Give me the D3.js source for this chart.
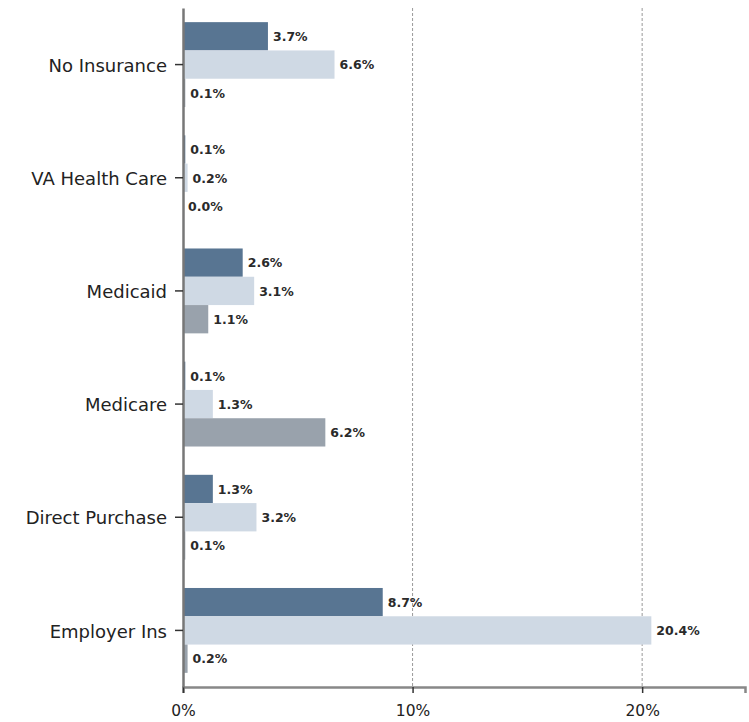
<!DOCTYPE html>
<html><head><meta charset="utf-8">
<script src="https://cdn.jsdelivr.net/npm/d3@7"></script>
<style>body{margin:0;background:#fff}svg{display:block}</style>
</head><body>
<svg id="chart" width="749" height="722"></svg>
<script>
const categories = ["No Insurance","VA Health Care","Medicaid","Medicare","Direct Purchase","Employer Ins"];
const seriesNames = ["s1","s2","s3"];
const series1 = [3.7, 0.1, 2.6, 0.1, 1.3, 8.7];
const series2 = [6.6, 0.2, 3.1, 1.3, 3.2, 20.4];
const series3 = [0.1, 0.0, 1.1, 6.2, 0.1, 0.2];
const tickValues = [0, 10, 20];
const colors = ["#587592", "#cfd9e4", "#99a2ac"];

const FONT = "'DejaVu Sans', Verdana, sans-serif";
const svg = d3.select("#chart");
const m = {top: 8, left: 183, right: 4, bottom: 35};
const W = 749, H = 722;
const x = d3.scaleLinear().domain([0, d3.max(series2) * 1.2]).range([m.left, W - m.right]);
const y = d3.scaleBand().domain(categories).range([m.top, H - m.bottom]).paddingInner(0.25).paddingOuter(0.125);
const ySub = d3.scaleBand().domain(seriesNames).range([0, y.bandwidth()]);
const allSeries = [series1, series2, series3];

// gridlines
svg.append("g").selectAll("line").data(tickValues.filter(d => d > 0)).join("line")
  .attr("x1", d => x(d)).attr("x2", d => x(d))
  .attr("y1", m.top).attr("y2", H - m.bottom)
  .attr("stroke", "#999").attr("stroke-width", 1).attr("stroke-dasharray", "3,2");

// bars
const groups = svg.append("g").selectAll("g").data(categories).join("g")
  .attr("transform", d => `translate(0,${y(d)})`);
groups.each(function(cat, i) {
  const g = d3.select(this);
  allSeries.forEach((s, j) => {
    const v = s[i];
    g.append("rect")
      .attr("x", x(0)).attr("y", ySub(seriesNames[j]))
      .attr("width", x(v) - x(0)).attr("height", ySub.bandwidth())
      .attr("fill", colors[j]);
    g.append("text")
      .attr("x", x(v) + 5).attr("y", ySub(seriesNames[j]) + ySub.bandwidth() / 2)
      .attr("dy", "0.38em")
      .attr("font-family", FONT)
      .attr("font-size", 12.5).attr("font-weight", 700).attr("fill", "#2a2a2a")
      .text(v.toFixed(1) + "%");
  });
});

// x axis
const xAxis = svg.append("g").attr("transform", `translate(0,${H - m.bottom})`)
  .call(d3.axisBottom(x).tickValues(tickValues).tickFormat(d => d + "%").tickSizeOuter(0).tickSize(6));
xAxis.select(".domain").attr("stroke", "#888").attr("stroke-width", 2.5);
xAxis.selectAll(".tick line").attr("stroke", "#333").attr("stroke-width", 1.5);
xAxis.selectAll(".tick text").attr("font-family", FONT).attr("font-size", 15.5).attr("fill", "#222").attr("dy", "1.3em");

// y axis
const yAxis = svg.append("g").attr("transform", `translate(${m.left},0)`)
  .call(d3.axisLeft(y).tickSize(8).tickSizeOuter(0).tickPadding(8));
yAxis.select(".domain").attr("stroke", "#777").attr("stroke-width", 2.5);
yAxis.selectAll(".tick line").attr("stroke", "#333").attr("stroke-width", 1.5);
yAxis.selectAll(".tick text").attr("font-family", FONT).attr("font-size", 18).attr("fill", "#222").attr("dy", "0.4em");
</script>
</body></html>
